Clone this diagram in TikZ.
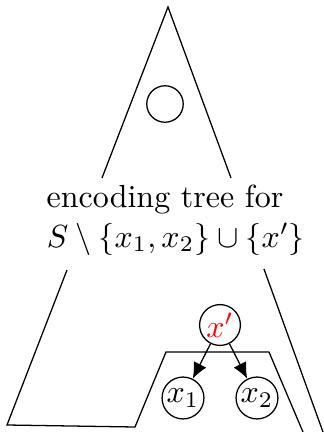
\documentclass[tikz,border=0pt]{standalone}
\usepackage{xcolor}
\usetikzlibrary{arrows.meta}
\tikzset{
  treenode/.style={circle, draw, line width=0.4pt, inner sep=0.5pt, minimum size=11.8pt},
  hole/.style={circle, draw, minimum size=11.4pt, inner sep=0pt},
  edge/.style={-{Latex[length=5pt,width=4.4pt]}, line width=0.4pt},
  caption/.style={anchor=base, inner sep=0pt},
}

\begin{document}
\begin{tikzpicture}[x=0.3125pt, y=-0.3125pt]
  \useasboundingbox (0,0) rectangle (324,432);

  % upper tree with its empty node
  \draw (102,178) -- (168,7) -- (231,178);
  \node[hole] (gap) at (165,104) {};

  \node[caption] (title) at (165,207) {encoding tree for};
  \node[caption] (set) at (176,247) {$S\setminus\{x_1,x_2\}\cup\{x'\}$};

  % lower tree, with the subtree cut out
  \draw (67,270) -- (7,425) -- (135,427) -- (166,352) -- (269,352) -- (303,432);
  \draw (264,269) -- (323,432);

  \node[treenode] (xp) at (220,325) {\textcolor{red}{$x'$}};
  \node[treenode] (x1) at (183,398) {$x_1$};
  \node[treenode] (x2) at (257,398) {$x_2$};

  \draw[edge] (xp) -- (x1);
  \draw[edge] (xp) -- (x2);
\end{tikzpicture}
\end{document}
